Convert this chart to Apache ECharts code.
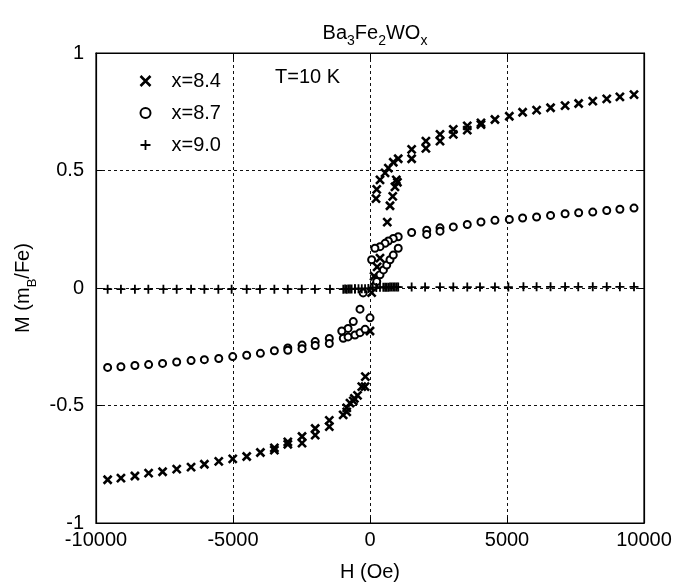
<!DOCTYPE html>
<html>
<head>
<meta charset="utf-8">
<script src="https://cdn.jsdelivr.net/npm/echarts@6/dist/echarts.min.js"></script>
<style>html,body{margin:0;padding:0;background:#fff}#c{width:680px;height:587px}</style>
</head>
<body>
<div id="c"></div>
<script>
// ---- data ----
var seriesNames = ['x=8.4', 'x=8.7', 'x=9.0'];
var xTicks = [-10000, -5000, 0, 5000, 10000];
var yTicks = [-1, -0.5, 0, 0.5, 1];

// x = 8.4 (crosses)
var h84 = [9635, 9120, 8640, 8130, 7615, 7120, 6590, 6080, 5570, 5085, 4560, 4050, 3550, 3040, 2555, 2040, 1520, 1030, 850, 670, 550, 365, 245, 220,
  0, -170, -300, -455, -610, -850, -1485, -2000, -2480, -3000, -3490, -4000, -4500, -5010, -5520, -6045, -6530, -7055, -7570, -8080, -8580, -9090, -9575,
  -3490, -3000, -2480, -2000, -1485, -980, -850, -730, -570, -180, 60, 150, 260, 365, 630, 730, 830, 910, 1000, 960, 1520, 2040, 2555, 3040, 3550, 4050];
var m84 = [0.823, 0.813, 0.805, 0.795, 0.785, 0.776, 0.767, 0.757, 0.748, 0.731, 0.717, 0.703, 0.69, 0.675, 0.654, 0.625, 0.59, 0.55, 0.535, 0.51, 0.49, 0.46, 0.42, 0.38,
  -0.183, -0.377, -0.42, -0.457, -0.48, -0.51, -0.563, -0.598, -0.632, -0.655, -0.68, -0.70, -0.717, -0.727, -0.738, -0.75, -0.762, -0.771, -0.782, -0.788, -0.80, -0.809, -0.816,
  -0.69, -0.665, -0.66, -0.626, -0.59, -0.54, -0.527, -0.49, -0.47, -0.42, -0.02, 0.05, 0.09, 0.127, 0.28, 0.35, 0.39, 0.43, 0.45, 0.46, 0.55, 0.594, 0.625, 0.654, 0.672, 0.695];

// x = 8.7 (circles)
var h87 = [9635, 9120, 8640, 8130, 7615, 7120, 6590, 6080, 5570, 5085, 4560, 4050, 3550, 3040, 2555, 2070, 1520, 1030, 850, 670, 550, 365, 180, 60,
  -250, -365, -610, -800, -1030, -1485, -2000, -2480, -3000, -3490, -4000, -4500, -5010, -5520, -6045, -6530, -7055, -7570, -8080, -8580, -9090, -9575,
  -3000, -2480, -2000, -1485, -975, -800, -550, -365, -180, 0, 150, 245, 365, 490, 610, 730, 850, 1030, 2070, 2555];
var m87 = [0.34, 0.335, 0.33, 0.323, 0.32, 0.316, 0.309, 0.302, 0.298, 0.292, 0.288, 0.281, 0.27, 0.26, 0.256, 0.246, 0.236, 0.218, 0.211, 0.2, 0.19, 0.176, 0.169, 0.12,
  -0.021, -0.09, -0.143, -0.172, -0.183, -0.215, -0.228, -0.243, -0.255, -0.267, -0.278, -0.286, -0.292, -0.30, -0.305, -0.309, -0.315, -0.321, -0.326, -0.33, -0.335, -0.338,
  -0.265, -0.258, -0.245, -0.236, -0.214, -0.208, -0.2, -0.19, -0.176, -0.127, 0.007, 0.028, 0.056, 0.077, 0.098, 0.12, 0.14, 0.169, 0.228, 0.242];

// x = 9.0 (plus signs)
var h90 = [-9575, -9090, -8580, -8090, -7540, -7055, -6530, -6045, -5535, -5050, -4500, -4015, -3490, -3000, -2490, -2010, -1460, -975, -850, -730, -550, -300, -180,
  -910, -790, -670, -550, -420, -60, 100, 230, 365, 485, 610, 730, 850, 975, 550, 670, 790, 910, 1030,
  1520, 2010, 2555, 3040, 3550, 4015, 4560, 5050, 5600, 6080, 6590, 7120, 7600, 8130, 8640, 9120, 9635];
var m90 = [-0.005, -0.005, -0.005, -0.005, -0.005, -0.005, -0.005, -0.005, -0.005, -0.005, -0.005, -0.005, -0.005, -0.005, -0.005, -0.005, -0.005, -0.005, -0.005, -0.004, -0.004, -0.003, -0.003,
  -0.004, -0.004, -0.004, -0.003, -0.003, -0.002, 0.002, 0.002, 0.003, 0.003, 0.003, 0.004, 0.004, 0.004, 0.003, 0.003, 0.004, 0.004, 0.004,
  0.004, 0.004, 0.004, 0.004, 0.004, 0.004, 0.004, 0.004, 0.005, 0.005, 0.005, 0.005, 0.005, 0.005, 0.005, 0.005, 0.005];

// ---- build ----
function pairs(h, m) { return h.map(function (v, i) { return [v, m[i]]; }); }
var crossPath = 'path://M0,0L10,10M10,0L0,10';
var plusPath = 'path://M5,0L5,10M0,5L10,5';
var FONT = 'Liberation Sans';
var FS = 20;

var chart = echarts.init(document.getElementById('c'), null, { renderer: 'canvas' });
var axLine = { show: true, onZero: false, lineStyle: { color: '#000', width: 1.2 } };
var axTick = { show: true, inside: true, length: 6, lineStyle: { color: '#000', width: 1 } };
var option = {
  backgroundColor: '#fff',
  animation: false,
  textStyle: { fontFamily: FONT },
  title: {
    text: '{n|Ba}{s|3}{n|Fe}{s|2}{n|WO}{s|x}',
    left: 370, top: 13, textAlign: 'center',
    textStyle: {
      fontFamily: FONT, fontWeight: 'normal', color: '#000',
      rich: {
        n: { fontFamily: FONT, fontSize: 20, color: '#000', lineHeight: 30, verticalAlign: 'middle' },
        s: { fontFamily: FONT, fontSize: 14, color: '#000', lineHeight: 30, verticalAlign: 'bottom' }
      }
    }
  },
  legend: {
    orient: 'vertical', left: 133, top: 66, itemGap: 12, itemWidth: 10, itemHeight: 10,
    textStyle: { fontFamily: FONT, fontSize: FS, color: '#000', padding: [0, 0, 0, 16] },
    data: [
      { name: seriesNames[0], icon: crossPath, itemStyle: { color: 'none', borderColor: '#000', borderWidth: 2.6 } },
      { name: seriesNames[1], icon: 'circle', itemStyle: { color: '#fff', borderColor: '#000', borderWidth: 2 } },
      { name: seriesNames[2], icon: plusPath, itemStyle: { color: 'none', borderColor: '#000', borderWidth: 1.8 } }
    ]
  },
  graphic: [{
    type: 'text', left: 275, top: 67,
    style: { text: 'T=10 K', font: FS + 'px "' + FONT + '"', fill: '#000' }
  }],
  grid: { left: 96, right: 36, top: 53, bottom: 60, containLabel: false, show: true, borderColor: '#000', borderWidth: 1.2, backgroundColor: 'transparent' },
  xAxis: [{
    type: 'value', min: xTicks[0], max: xTicks[xTicks.length - 1], interval: 5000, position: 'bottom',
    name: 'H (Oe)', nameLocation: 'middle', nameGap: 39,
    nameTextStyle: { fontFamily: FONT, fontSize: FS, color: '#000' },
    axisLine: axLine, axisTick: axTick,
    axisLabel: { fontFamily: FONT, fontSize: FS, color: '#000', margin: 7, formatter: function (v) { return String(v); } },
    splitLine: { show: true, lineStyle: { color: '#111', width: 1, type: [3, 3] } }
  }, {
    type: 'value', min: xTicks[0], max: xTicks[xTicks.length - 1], interval: 5000, position: 'top',
    axisLine: axLine, axisTick: axTick, axisLabel: { show: false }, splitLine: { show: false }
  }],
  yAxis: [{
    type: 'value', min: yTicks[0], max: yTicks[yTicks.length - 1], interval: 0.5, position: 'left',
    name: 'M (m{s|B}/Fe)', nameLocation: 'middle', nameGap: 62, nameRotate: 90,
    nameTextStyle: {
      fontFamily: FONT, fontSize: FS, color: '#000', lineHeight: 30, verticalAlign: 'middle',
      rich: { s: { fontFamily: FONT, fontSize: 13, color: '#000', lineHeight: 30, verticalAlign: 'bottom' } }
    },
    axisLine: axLine, axisTick: axTick,
    axisLabel: { fontFamily: FONT, fontSize: FS, color: '#000', margin: 12, formatter: function (v) { return String(v); } },
    splitLine: { show: true, lineStyle: { color: '#111', width: 1, type: [3, 3] } }
  }, {
    type: 'value', min: yTicks[0], max: yTicks[yTicks.length - 1], interval: 0.5, position: 'right',
    axisLine: axLine, axisTick: axTick, axisLabel: { show: false }, splitLine: { show: false }
  }],
  series: [{
    name: seriesNames[0], type: 'scatter', data: pairs(h84, m84),
    symbol: crossPath, symbolSize: 8,
    itemStyle: { color: 'none', borderColor: '#000', borderWidth: 2.6, opacity: 1 }
  }, {
    name: seriesNames[1], type: 'scatter', data: pairs(h87, m87),
    symbol: 'circle', symbolSize: 7,
    itemStyle: { color: '#fff', borderColor: '#000', borderWidth: 2, opacity: 1 }
  }, {
    name: seriesNames[2], type: 'scatter', data: pairs(h90, m90),
    symbol: plusPath, symbolSize: 9,
    itemStyle: { color: 'none', borderColor: '#000', borderWidth: 1.8, opacity: 1 }
  }]
};
chart.setOption(option);
</script>
</body>
</html>
